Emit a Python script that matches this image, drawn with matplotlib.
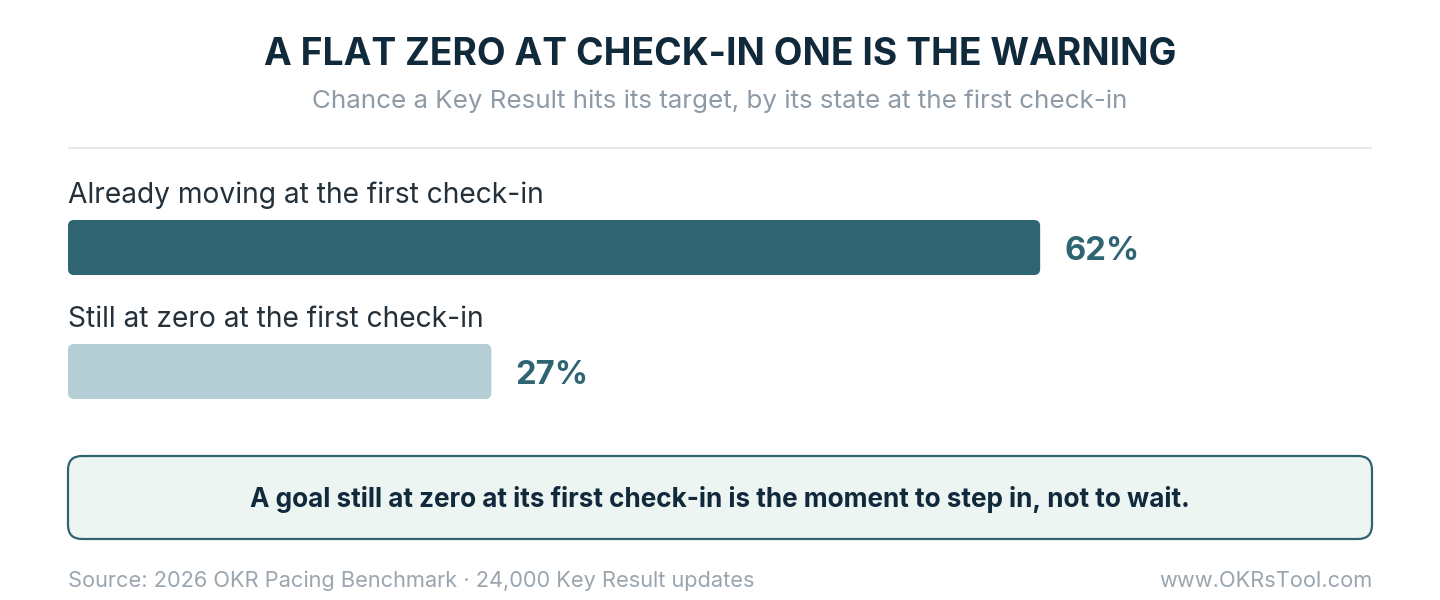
import matplotlib
matplotlib.use("Agg")
import matplotlib.pyplot as plt
from matplotlib.patches import FancyBboxPatch

# ─── Data ─────────────────────────────────────────────────────────────────────
categories = ["Already moving at the first check-in", "Still at zero at the first check-in"]
hit_rates  = [62, 27]
bar_colors = ["#2f6472", "#b5cdd4"]

title    = "A FLAT ZERO AT CHECK-IN ONE IS THE WARNING"
subtitle = "Chance a Key Result hits its target, by its state at the first check-in"
callout  = "A goal still at zero at its first check-in is the moment to step in, not to wait."
source   = "Source: 2026 OKR Pacing Benchmark \u00b7 24,000 Key Result updates"
site     = "www.OKRsTool.com"

# ─── Style ────────────────────────────────────────────────────────────────────
plt.rcParams["font.family"] = ["Inter", "DejaVu Sans"]
NAVY  = "#10293b"
TEAL  = "#2f6472"
GREY  = "#8e9aa5"
W, H  = 1440, 600

fig = plt.figure(figsize=(W / 100, H / 100), dpi=100)
fig.patch.set_facecolor("white")

# background axes in pixel units (y down) for the frame elements
bg = fig.add_axes([0, 0, 1, 1])
bg.set_xlim(0, W)
bg.set_ylim(H, 0)
bg.axis("off")

bg.text(W / 2, 65, title, ha="center", va="baseline", fontsize=26.8,
        fontweight="bold", color=NAVY)
bg.text(W / 2, 108, subtitle, ha="center", va="baseline", fontsize=18.7, color=GREY)
bg.plot([68, 1372], [148, 148], color="#e3e6e9", lw=1.3, solid_capstyle="butt")

box = FancyBboxPatch((68, 456), 1304, 83, boxstyle="round,pad=0,rounding_size=14",
                     facecolor="#edf5f3", edgecolor=TEAL, lw=1.6)
bg.add_patch(box)
bg.text(W / 2, 507, callout, ha="center", va="baseline", fontsize=18.8,
        fontweight="bold", color=NAVY)

bg.text(68, 587, source, ha="left", va="baseline", fontsize=15.7, color="#9aa5af")
bg.text(1372, 587, site, ha="right", va="baseline", fontsize=15.7, color="#9aa5af")

# ─── Bars ─────────────────────────────────────────────────────────────────────
# axes spans x 68..1372 px; 100% ≈ 1568 px
x0_px, x1_px = 68, 1372
px_per_pct = 15.68
row_px = 124                       # vertical distance between bar rows
top_px, bot_px = 160, 430
ax = fig.add_axes([x0_px / W, 1 - bot_px / H, (x1_px - x0_px) / W, (bot_px - top_px) / H])
ax.set_xlim(0, (x1_px - x0_px) / px_per_pct)
y_top = -(247.5 - top_px) / row_px
ax.set_ylim(y_top + (bot_px - top_px) / row_px, y_top)
ax.axis("off")

bar_h = 55 / row_px
radius = 6 / px_per_pct
for i, (cat, val, col) in enumerate(zip(categories, hit_rates, bar_colors)):
    ax.add_patch(FancyBboxPatch((0, i - bar_h / 2), val, bar_h,
                                boxstyle=f"round,pad=0,rounding_size={radius}",
                                mutation_aspect=px_per_pct / row_px,
                                facecolor=col, edgecolor="none"))
    ax.text(0, i - 44.5 / row_px, cat, ha="left", va="baseline", fontsize=20.3, color="#24313b")
    ax.text(val + 24 / px_per_pct, i + 12 / row_px, f"{val}%", ha="left", va="baseline",
            fontsize=23.6, fontweight="bold", color=TEAL)

fig.savefig("out.png", dpi=100, facecolor="white")
